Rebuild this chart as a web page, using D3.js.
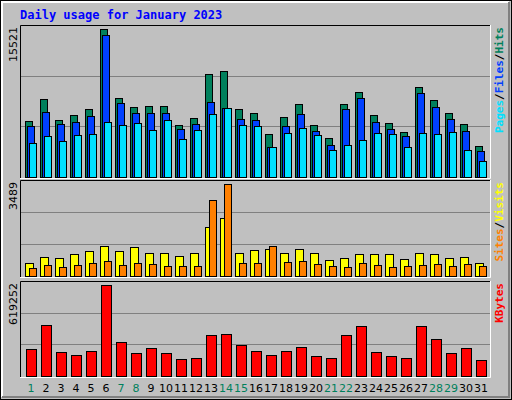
<!DOCTYPE html>
<html><head><meta charset="utf-8">
<script src="https://cdn.jsdelivr.net/npm/d3@7"></script>
<style>body{margin:0;background:#fff}svg{display:block}</style>
</head><body><svg width="512" height="400"></svg>
<script>
const days = d3.range(1, 32);
const weekend = [1, 7, 8, 14, 15, 21, 22, 28, 29];
const hits = [5840,8150,5950,6470,7100,15521,8260,7310,7420,7420,5420,6160,10770,11090,7100,6680,4480,6260,7630,5420,4060,7630,8880,6470,5630,4690,9410,8040,6680,5530,3220];
const files = [5320,6790,5530,5740,6370,14860,7730,6680,6680,6680,5000,5530,7840,7210,6050,5950,3120,5320,6580,4790,3330,7100,8260,5740,5000,4270,8780,7310,6050,4790,2700];
const pages = [3530,4270,3740,4370,4480,5740,5420,5630,4900,5950,3950,4900,6580,7210,5420,5320,3120,4580,5110,4370,2800,3330,3850,4580,4480,3120,4580,4480,4690,2800,1650];
const visits = [493,720,682,834,948,1138,948,1100,872,872,758,872,1857,2198,872,986,1024,872,1024,872,606,682,834,834,834,644,872,834,682,720,493];
const sites = [303,417,341,417,493,569,417,493,455,379,379,379,2880,3489,493,493,1138,531,569,455,379,341,493,417,341,379,417,455,379,455,379];
const kbytes = [185000,348000,165000,145000,172000,619252,233000,158000,192000,158000,117000,124000,280000,287000,212000,172000,145000,172000,199000,138000,124000,280000,341000,165000,138000,124000,341000,253000,158000,192000,111000];

const svg = d3.select("svg");
// outer frame with bevel
svg.append("rect").attr("x",0.5).attr("y",0.5).attr("width",511).attr("height",399).attr("fill","#c0c0c0").attr("stroke","#000");
svg.append("path").attr("d","M2,397V2H509").attr("fill","none").attr("stroke","#fff").attr("stroke-width",2);
svg.append("path").attr("d","M2,397H509V2").attr("fill","none").attr("stroke","#808080").attr("stroke-width",2);

svg.append("text").attr("x",20).attr("y",19).attr("fill","#0000ff")
  .style("font","bold 12px 'DejaVu Sans Mono'").text("Daily usage for January 2023");

const x = d3.scaleBand().domain(days).range([20, 485]).paddingInner(0).paddingOuter(0);
const x0 = d => 25 + (d - 1) * 15;

function panel(top, bottom, max, label, legend) {
  const y = d3.scaleLinear().domain([0, max]).range([bottom, top + 4]);
  const g = svg.append("g");
  g.append("rect").attr("x",20).attr("y",top).attr("width",470).attr("height",bottom-top+1).attr("fill","#c0c0c0");
  const h = bottom - top;
  [1/3, 2/3].forEach(f => g.append("line").attr("x1",21).attr("x2",490)
    .attr("y1",Math.round(bottom - h*f)+0.5).attr("y2",Math.round(bottom - h*f)+0.5).attr("stroke","#808080"));
  g.append("path").attr("d",`M20.5,${bottom+1}V${top+0.5}H490`).attr("fill","none").attr("stroke","#000");
  g.append("path").attr("d",`M20,${bottom+1.5}H490.5V${top}`).attr("fill","none").attr("stroke","#fff");
  g.append("text").attr("transform",`translate(17,${top+2}) rotate(-90)`).attr("text-anchor","end")
    .style("font","11px 'DejaVu Sans'").attr("fill","#000").text(label);
  const t = g.append("text").attr("transform",`translate(503,${top+2}) rotate(-90)`).attr("text-anchor","end")
    .style("font","bold 11px 'DejaVu Sans Mono'");
  legend.forEach((l, i) => {
    if (i) t.append("tspan").attr("fill","#000").text("/");
    t.append("tspan").attr("fill",l[1]).text(l[0]);
  });
  return {g, y};
}

function bars(p, data, color, off, w) {
  p.g.selectAll(null).data(data).enter().append("rect")
    .attr("x",(d,i) => x0(days[i]) + off + 0.5).attr("y",d => Math.round(p.y(d)) + 0.5)
    .attr("width",w).attr("height",d => Math.round(p.y(0) - p.y(d)))
    .attr("fill",color).attr("stroke","#000");
}

const p1 = panel(25, 177, 15521, "15521", [["Pages","#00e0ff"],["Files","#0040ff"],["Hits","#00805c"]]);
bars(p1, hits, "#00805c", 0, 7);
bars(p1, files, "#0040ff", 2, 7);
bars(p1, pages, "#00e0ff", 4, 7);

const p2 = panel(180, 276, 3489, "3489", [["Sites","#ff8000"],["Visits","#ffff00"]]);
bars(p2, visits, "#ffff00", 0, 8);
bars(p2, sites, "#ff8000", 4, 7);

const p3 = panel(281, 376, 619252, "619252", [["KBytes","#ff0000"]]);
bars(p3, kbytes, "#ff0000", 1, 10);

svg.append("g").selectAll(null).data(days).enter().append("text")
  .attr("x", d => x0(d) + 6).attr("y", 392).attr("text-anchor","middle")
  .style("font","11px 'DejaVu Sans'")
  .attr("fill", d => weekend.includes(d) ? "#00805c" : "#000").text(d => d);
</script></body></html>
